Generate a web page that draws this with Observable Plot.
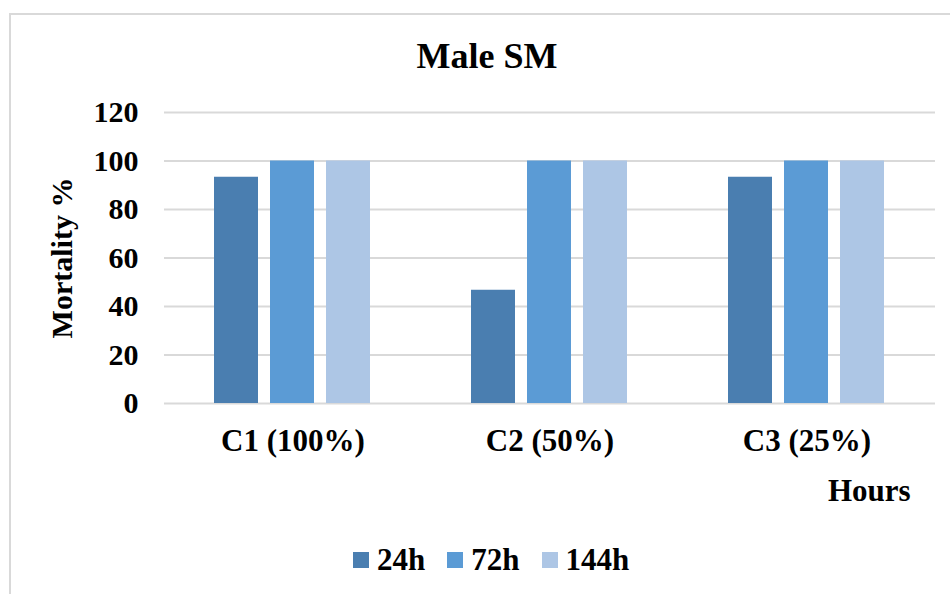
<!DOCTYPE html>
<html>
<head>
<meta charset="utf-8">
<script src="https://cdn.jsdelivr.net/npm/d3@7"></script>
<script src="https://cdn.jsdelivr.net/npm/@observablehq/plot@0.6"></script>
<style>
  html, body { margin: 0; padding: 0; width: 950px; height: 594px; overflow: hidden; background: #fff; }
  body { position: relative; font-family: "Liberation Serif", "Times New Roman", serif; font-weight: bold; color: #000; }
  #frame { position: absolute; left: 9px; top: 13px; width: 2000px; height: 2000px; border-top: 2px solid #d9d9d9; border-left: 2px solid #d9d9d9; }
  #title { position: absolute; top: 38px; left: 487px; transform: translateX(-50%); font-size: 36px; line-height: 1; white-space: nowrap; }
  #chart { position: absolute; top: 90px; left: 0; }
  #hours { position: absolute; top: 475px; left: 828px; font-size: 31px; line-height: 1; }
  #legend { position: absolute; top: 544px; left: 353px; display: flex; align-items: center; font-size: 31px; line-height: 1; white-space: nowrap; }
  .item { display: flex; align-items: center; margin-right: 22px; }
  .sw { width: 16px; height: 16px; margin-right: 8px; }
</style>
</head>
<body>
<div id="frame"></div>
<div id="title">Male SM</div>
<div id="chart"></div>
<div id="hours">Hours</div>
<div id="legend"></div>
<script>
const groups = ["C1 (100%)", "C2 (50%)", "C3 (25%)"];
const series = ["24h", "72h", "144h"];
const colors = ["#4a7eb0", "#5b9bd5", "#adc6e5"];
const v24 = [93.3, 46.7, 93.3];
const v72 = [100, 100, 100];
const v144 = [100, 100, 100];
const yTicks = [0, 20, 40, 60, 80, 100, 120];

const valuesBySeries = {"24h": v24, "72h": v72, "144h": v144};
const data = [];
groups.forEach((g, i) => series.forEach(s => data.push({group: g, series: s, value: valuesBySeries[s][i]})));

const chart = Plot.plot({
  width: 950,
  height: 380,
  marginTop: 22,
  marginBottom: 67,
  marginLeft: 163,
  marginRight: 15,
  style: {fontFamily: "'Liberation Serif', 'Times New Roman', serif", fontWeight: "bold", fontSize: "31px", color: "#000", background: "transparent"},
  fx: {domain: groups, padding: 0, label: null},
  x: {domain: series, paddingInner: 0.21, paddingOuter: 0.864, axis: null},
  y: {domain: [0, 120]},
  color: {domain: series, range: colors},
  marks: [
    Plot.gridY(yTicks, {stroke: "#d9d9d9", strokeOpacity: 1, strokeWidth: 2}),
    Plot.barY(data, {fx: "group", x: "series", y: "value", fill: "series"}),
    Plot.axisY({ticks: yTicks, tickSize: 0, tickPadding: 26, fontSize: 30, label: "Mortality %", labelArrow: "none", labelAnchor: "center", labelOffset: 114}),
    Plot.axisFx({anchor: "bottom", tickSize: 0, tickPadding: 25, label: null})
  ]
});
document.getElementById("chart").appendChild(chart);

const legend = d3.select("#legend");
series.forEach((s, i) => {
  const it = legend.append("div").attr("class", "item");
  it.append("div").attr("class", "sw").style("background", colors[i]);
  it.append("span").text(s);
});
</script>
</body>
</html>
